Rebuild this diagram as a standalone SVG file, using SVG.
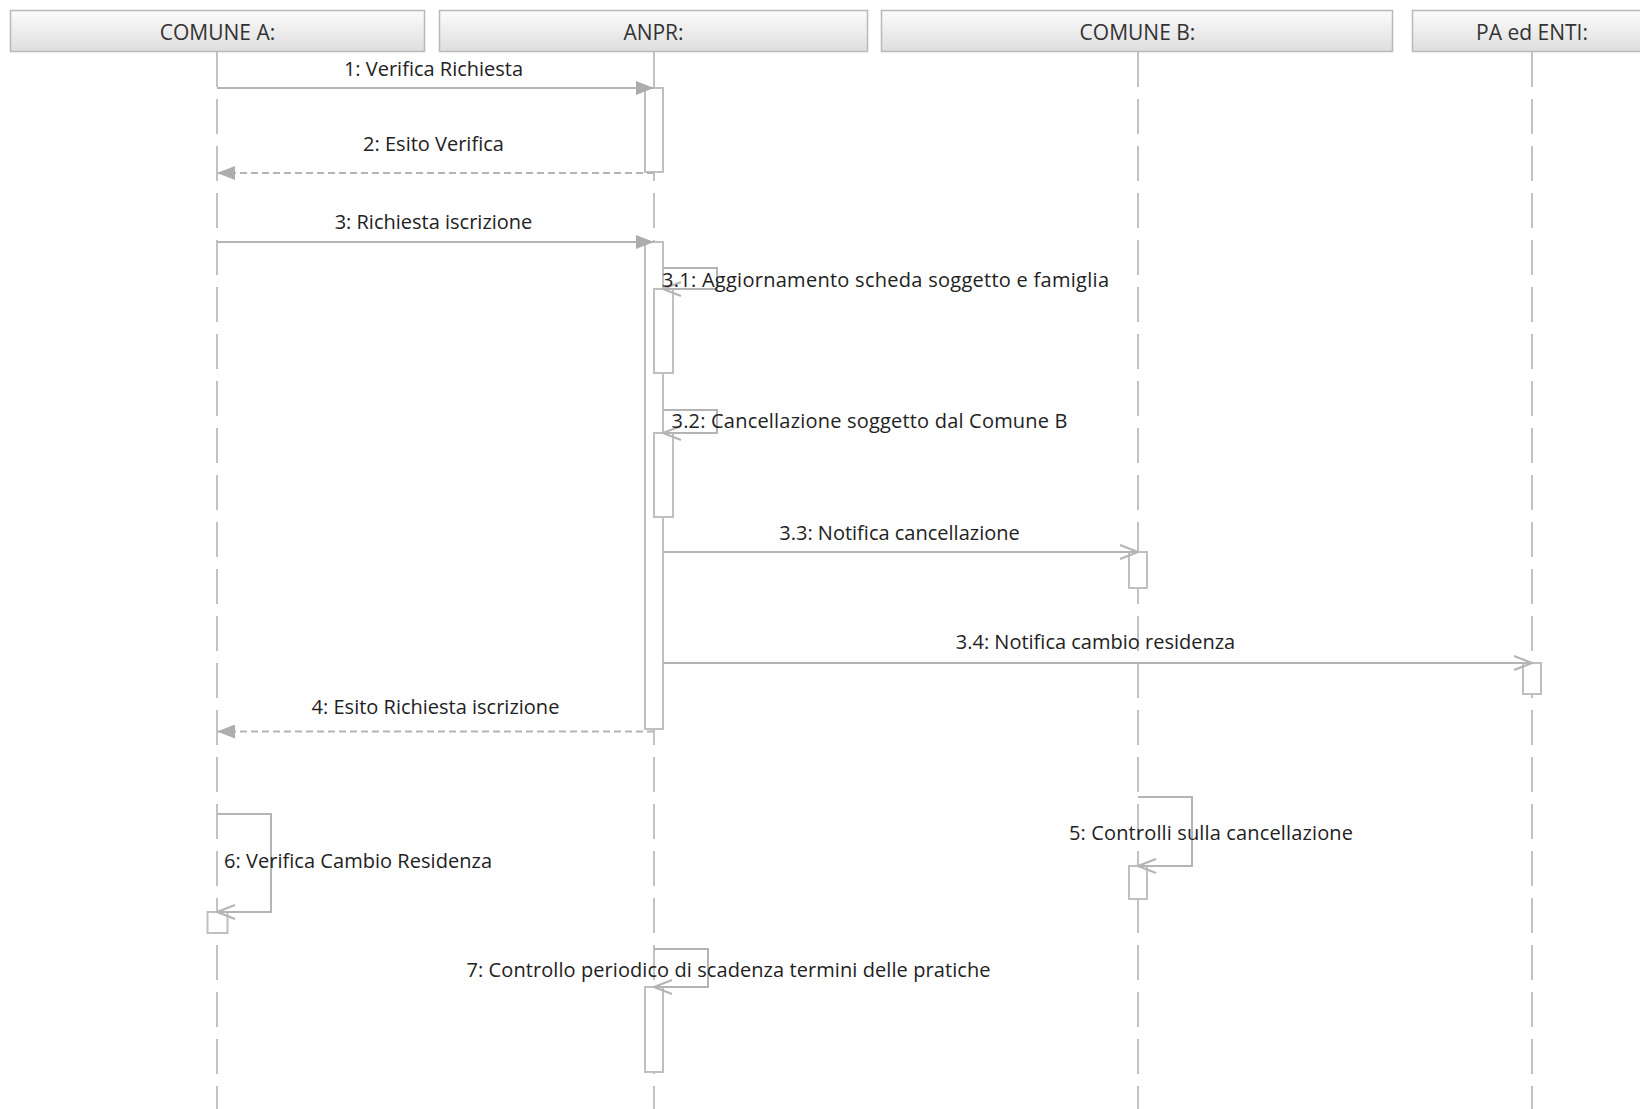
<svg xmlns="http://www.w3.org/2000/svg" width="1640" height="1109" viewBox="0 0 1640 1109">
  <defs>
    <linearGradient id="hdr" x1="0" y1="0" x2="0" y2="1">
      <stop offset="0" stop-color="#fcfcfc"/>
      <stop offset="1" stop-color="#dedede"/>
    </linearGradient>
    <marker id="filled" viewBox="0 0 18 14" refX="18" refY="7" markerWidth="18" markerHeight="14" markerUnits="userSpaceOnUse" orient="auto">
      <path d="M0,0 L18,7 L0,14 z" fill="#adadad"/>
    </marker>
    <marker id="open" viewBox="0 0 20 16" refX="19" refY="8" markerWidth="20" markerHeight="16" markerUnits="userSpaceOnUse" orient="auto">
      <path d="M1,1 L19,8 L1,15" fill="none" stroke="#b4b4b4" stroke-width="2"/>
    </marker>
  </defs>
  <style>
    .hbox { fill: url(#hdr); stroke: #b9b9b9; stroke-width: 1.5; }
    .htxt { font-family: "Open Sans", "Liberation Sans", sans-serif; font-size: 21px; fill: #333333; text-anchor: middle; }
    .life { stroke: #c2c2c2; stroke-width: 2; stroke-dasharray: 35 12; fill: none; }
    .act { fill: #ffffff; stroke: #c0c0c0; stroke-width: 2; }
    .msg { stroke: #b4b4b4; stroke-width: 2; fill: none; }
    .ret { stroke: #b4b4b4; stroke-width: 2; fill: none; stroke-dasharray: 7 4; }
    .lbl { font-family: "Open Sans", "Liberation Sans", sans-serif; font-size: 20px; fill: #222222; }
    .mid { text-anchor: middle; }
  </style>

  <g id="lifeline-comuneA">
    <rect class="hbox" x="10.5" y="10.5" width="414" height="41"/>
    <text class="htxt" x="217.5" y="39.5">COMUNE A:</text>
    <line class="life" x1="217" y1="52" x2="217" y2="1109"/>
    <rect class="act" x="207.5" y="912" width="20" height="21"/>
  </g>

  <g id="lifeline-anpr">
    <rect class="hbox" x="439.5" y="10.5" width="428" height="41"/>
    <text class="htxt" x="653.5" y="39.5">ANPR:</text>
    <line class="life" x1="654" y1="52" x2="654" y2="1109"/>
    <rect class="act" x="645" y="88" width="18" height="84"/>
    <rect class="act" x="645" y="242" width="18" height="487"/>
    <rect class="act" x="654" y="289" width="19" height="84"/>
    <rect class="act" x="654" y="433" width="19" height="84"/>
    <rect class="act" x="645" y="987" width="18" height="85"/>
  </g>

  <g id="lifeline-comuneB">
    <rect class="hbox" x="881.5" y="10.5" width="511" height="41"/>
    <text class="htxt" x="1137.5" y="39.5">COMUNE B:</text>
    <line class="life" x1="1138" y1="52" x2="1138" y2="1109"/>
    <rect class="act" x="1129" y="552" width="18" height="36"/>
    <rect class="act" x="1129" y="866" width="18" height="33"/>
  </g>

  <g id="lifeline-pa">
    <rect class="hbox" x="1412.5" y="10.5" width="240" height="41"/>
    <text class="htxt" x="1532" y="39.5">PA ed ENTI:</text>
    <line class="life" x1="1532" y1="52" x2="1532" y2="1109"/>
    <rect class="act" x="1523" y="663" width="18" height="31"/>
  </g>

  <g id="connectors">
    <line class="msg" x1="217" y1="88" x2="654" y2="88" marker-end="url(#filled)"/>
    <line class="ret" x1="654" y1="173" x2="217" y2="173" marker-end="url(#filled)"/>
    <line class="msg" x1="217" y1="242" x2="654" y2="242" marker-end="url(#filled)"/>
    <path class="msg" d="M663,268 H717 V289 H663" marker-end="url(#open)"/>
    <path class="msg" d="M663,410 H717 V433 H663" marker-end="url(#open)"/>
    <line class="msg" x1="663" y1="552" x2="1138" y2="552" marker-end="url(#open)"/>
    <line class="msg" x1="663" y1="663" x2="1532" y2="663" marker-end="url(#open)"/>
    <line class="ret" x1="654" y1="731.5" x2="217" y2="731.5" marker-end="url(#filled)"/>
    <path class="msg" d="M1138,797 H1192 V866 H1138" marker-end="url(#open)"/>
    <path class="msg" d="M217,814 H271 V912 H217" marker-end="url(#open)"/>
    <path class="msg" d="M654,949 H708 V987 H654" marker-end="url(#open)"/>
  </g>

  <g id="labels">
    <text class="lbl mid" x="433.5" y="76">1: Verifica Richiesta</text>
    <text class="lbl mid" x="433.5" y="151">2: Esito Verifica</text>
    <text class="lbl mid" x="433.5" y="229">3: Richiesta iscrizione</text>
    <text class="lbl" x="662" y="287" textLength="447">3.1: Aggiornamento scheda soggetto e famiglia</text>
    <text class="lbl" x="671.5" y="428" textLength="396">3.2: Cancellazione soggetto dal Comune B</text>
    <text class="lbl mid" x="899.5" y="540">3.3: Notifica cancellazione</text>
    <text class="lbl mid" x="1095.5" y="649">3.4: Notifica cambio residenza</text>
    <text class="lbl mid" x="435.5" y="714">4: Esito Richiesta iscrizione</text>
    <text class="lbl" x="1069" y="840" textLength="284">5: Controlli sulla cancellazione</text>
    <text class="lbl" x="224" y="868" textLength="268">6: Verifica Cambio Residenza</text>
    <text class="lbl" x="466.5" y="977" textLength="524">7: Controllo periodico di scadenza termini delle pratiche</text>
  </g>
</svg>
